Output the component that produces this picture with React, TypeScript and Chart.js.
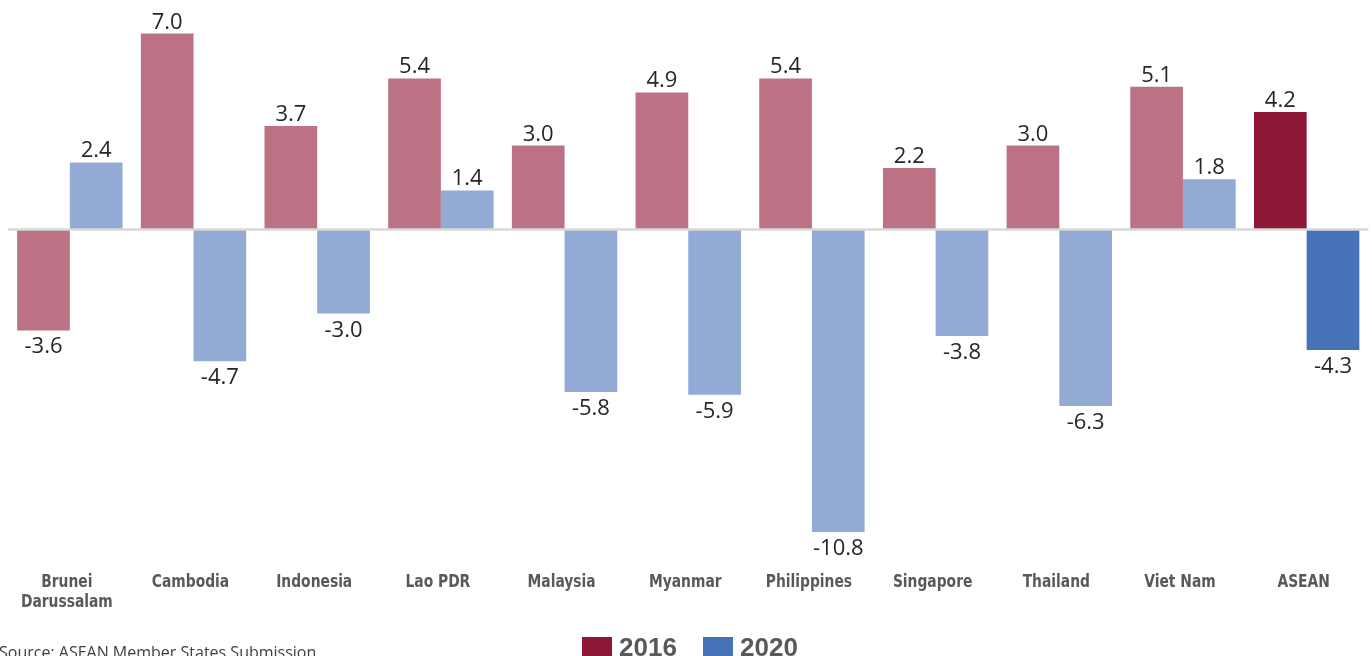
import React, { useEffect, useRef } from "react";
import { Chart, registerables } from "chart.js";

Chart.register(...registerables);

const categories: string[][] = [
  ["Brunei", "Darussalam"],
  ["Cambodia"],
  ["Indonesia"],
  ["Lao PDR"],
  ["Malaysia"],
  ["Myanmar"],
  ["Philippines"],
  ["Singapore"],
  ["Thailand"],
  ["Viet Nam"],
  ["ASEAN"],
];
const values2016 = [-3.6, 7.0, 3.7, 5.4, 3.0, 4.9, 5.4, 2.2, 3.0, 5.1, 4.2];
const values2020 = [2.4, -4.7, -3.0, 1.4, -5.8, -5.9, -10.8, -3.8, -6.3, 1.8, -4.3];
const seriesLabels = ["2016", "2020"];
const sourceText = "Source: ASEAN Member States Submission";

const PINK = "#BC7285";
const LIGHTBLUE = "#92AAD4";
const DARKRED = "#8C1736";
const BLUE = "#4672B8";

const W = 1372;
const H = 656;

export default function App() {
  const ref = useRef<HTMLCanvasElement | null>(null);

  useEffect(() => {
    document.body.style.margin = "0";
    const canvas = ref.current;
    if (!canvas) return;
    const n = categories.length;
    const colors2016 = values2016.map((_, i) => (i === n - 1 ? DARKRED : PINK));
    const colors2020 = values2020.map((_, i) => (i === n - 1 ? BLUE : LIGHTBLUE));

    const overlay = {
      id: "overlay",
      afterDatasetsDraw(chart: any) {
        const ctx = chart.ctx;
        const ca = chart.chartArea;
        const y0 = chart.scales.y.getPixelForValue(0);
        ctx.save();
        ctx.strokeStyle = "#d9d9d9";
        ctx.lineWidth = 2.5;
        ctx.beginPath();
        ctx.moveTo(ca.left, y0);
        ctx.lineTo(ca.right, y0);
        ctx.stroke();

        // value labels
        ctx.font = '22px "Open Sans", "DejaVu Sans", sans-serif';
        ctx.fillStyle = "#262626";
        ctx.textAlign = "center";
        ctx.textBaseline = "alphabetic";
        chart.data.datasets.forEach((ds: any, di: number) => {
          const meta = chart.getDatasetMeta(di);
          meta.data.forEach((bar: any, i: number) => {
            const v = ds.data[i];
            const txt = v.toFixed(1);
            if (v >= 0) {
              ctx.fillText(txt, bar.x, bar.y - 5);
            } else {
              ctx.fillText(txt, bar.x, bar.y + 23);
            }
          });
        });

        // category labels (condensed bold)
        const xs = chart.scales.x;
        ctx.font = 'bold 18px "DejaVu Sans Condensed", "DejaVu Sans", sans-serif';
        ctx.fillStyle = "#595959";
        ctx.textAlign = "center";
        categories.forEach((lines, i) => {
          const cx = xs.getPixelForValue(i) - 3;
          lines.forEach((line, li) => {
            ctx.save();
            ctx.translate(cx, 587 + li * 20);
            ctx.scale(0.855, 1);
            ctx.fillText(line, 0, 0);
            ctx.restore();
          });
        });

        // legend
        const legendColors = [DARKRED, BLUE];
        const boxXs = [582, 703];
        ctx.font = 'bold 26px "Liberation Sans", Arial, sans-serif';
        ctx.textAlign = "left";
        seriesLabels.forEach((lab, k) => {
          ctx.fillStyle = legendColors[k];
          ctx.fillRect(boxXs[k], 637, 30, 20);
          ctx.fillStyle = "#595959";
          ctx.fillText(lab, boxXs[k] + 37, 656);
        });

        // source
        ctx.font = '16px "Open Sans", "DejaVu Sans", sans-serif';
        ctx.fillStyle = "#404040";
        ctx.fillText(sourceText, -1, 658);
        ctx.restore();
      },
    };

    const chart = new Chart(canvas, {
      type: "bar",
      data: {
        labels: categories.map((c) => c.join(" ")),
        datasets: [
          {
            label: seriesLabels[0],
            data: values2016,
            backgroundColor: colors2016,
            categoryPercentage: 0.852,
            barPercentage: 1,
          },
          {
            label: seriesLabels[1],
            data: values2020,
            backgroundColor: colors2020,
            categoryPercentage: 0.852,
            barPercentage: 1,
          },
        ],
      },
      options: {
        responsive: false,
        animation: false,
        devicePixelRatio: 1,
        layout: { padding: { left: 8, right: 3.5, top: 0, bottom: 30.4 } },
        plugins: {
          legend: { display: false },
          tooltip: { enabled: false },
        },
        scales: {
          x: {
            grid: { display: false, drawTicks: false },
            border: { display: false },
            ticks: { display: false },
            afterFit: (s: any) => {
              s.height = 60;
            },
          },
          y: {
            display: false,
            min: -12,
            max: 8.2,
          },
        },
      },
      plugins: [overlay],
    });
    return () => chart.destroy();
  }, []);

  return (
    <div style={{ position: "absolute", left: 0, top: 0, width: W, height: H }}>
      <canvas ref={ref} width={W} height={H} />
    </div>
  );
}
